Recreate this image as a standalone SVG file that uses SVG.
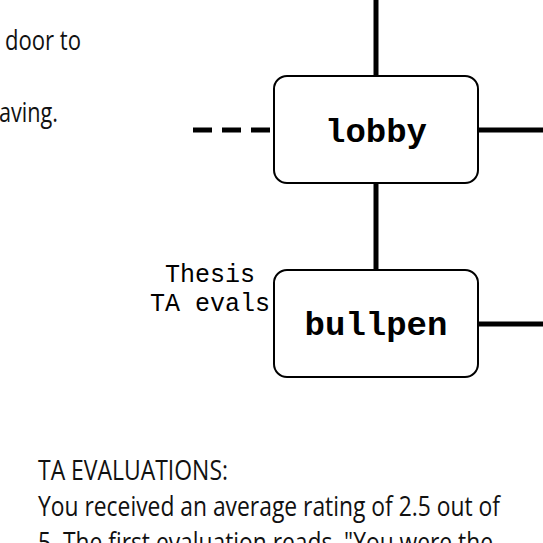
<svg xmlns="http://www.w3.org/2000/svg" width="543" height="543" viewBox="0 0 543 543">
<style>
.box{fill:#fff;stroke:#000;stroke-width:2}
.edge{stroke:#000;stroke-width:5;fill:none}
.name{font-family:"Liberation Mono","Courier New",monospace;font-weight:bold;font-size:34px;text-anchor:middle}
.lbl{font-family:"Liberation Mono","Courier New",monospace;font-size:25px;text-anchor:middle}
.prose{font-family:"Open Sans","Noto Sans",sans-serif;font-size:28px;fill:#111}
</style>
<rect width="543" height="543" fill="#fff"/>
<g id="connectors">
<line class="edge" x1="376" y1="0" x2="376" y2="76"/>
<line class="edge" x1="376" y1="183" x2="376" y2="270"/>
<line class="edge" x1="478" y1="130" x2="543" y2="130"/>
<line class="edge" x1="478" y1="324" x2="543" y2="324"/>
<line class="edge" x1="193" y1="130" x2="274" y2="130" stroke-dasharray="19 10"/>
</g>
<g id="lobby">
<rect class="box" x="274" y="76" width="204" height="107" rx="13"/>
<text class="name" x="376" y="142">lobby</text>
</g>
<g id="bullpen">
<rect class="box" x="274" y="270" width="204" height="107" rx="13"/>
<text class="name" x="376" y="335">bullpen</text>
</g>
<g id="label">
<text class="lbl" x="210" y="282">Thesis</text>
<text class="lbl" x="210" y="311">TA evals</text>
</g>
<g id="prose">
<text class="prose" x="5" y="50" textLength="76" lengthAdjust="spacingAndGlyphs">door to</text>
<text class="prose" x="-1" y="122" textLength="59" lengthAdjust="spacingAndGlyphs">aving.</text>
<text class="prose" x="38" y="480" textLength="190" lengthAdjust="spacingAndGlyphs">TA EVALUATIONS:</text>
<text class="prose" x="38" y="516" textLength="462" lengthAdjust="spacingAndGlyphs">You received an average rating of 2.5 out of</text>
<text class="prose" x="38" y="552" textLength="455" lengthAdjust="spacingAndGlyphs">5. The first evaluation reads, "You were the</text>
</g>
</svg>
